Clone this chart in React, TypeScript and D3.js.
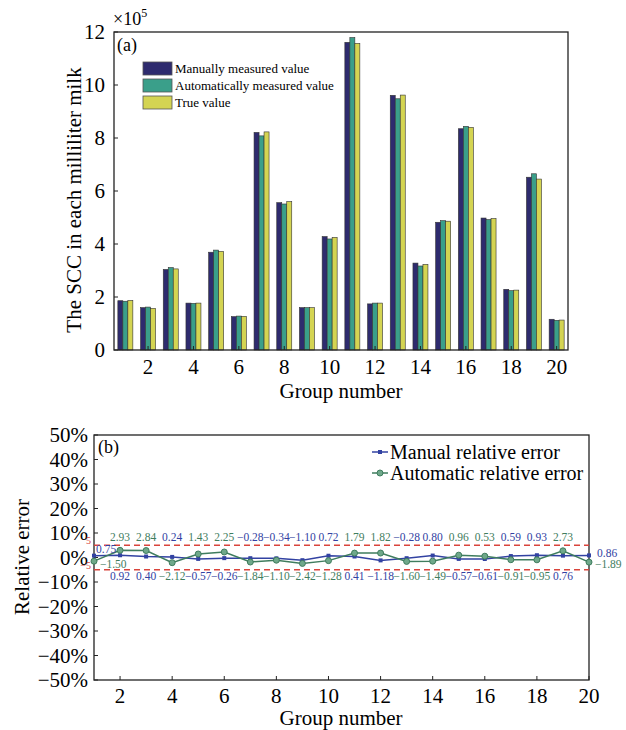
import React, { useEffect, useRef } from 'react';
import * as d3 from 'd3';

// groups 1..20
const groups = [1, 2, 3, 4, 5, 6, 7, 8, 9, 10, 11, 12, 13, 14, 15, 16, 17, 18, 19, 20];

// SCC values (x10^5)
const manualValues = [1.86, 1.60, 3.04, 1.77, 3.69, 1.26, 8.21, 5.56, 1.60, 4.28, 11.61, 1.74, 9.61, 3.28, 4.82, 8.35, 4.98, 2.29, 6.52, 1.16];
const autoValues = [1.84, 1.62, 3.11, 1.76, 3.77, 1.28, 8.08, 5.51, 1.60, 4.19, 11.79, 1.77, 9.48, 3.17, 4.88, 8.44, 4.92, 2.24, 6.65, 1.12];
const trueValues = [1.87, 1.57, 3.06, 1.77, 3.72, 1.27, 8.23, 5.60, 1.60, 4.25, 11.57, 1.77, 9.62, 3.23, 4.86, 8.40, 4.96, 2.26, 6.45, 1.13];

// relative errors (%)
const manualErr = [0.75, 0.92, 0.40, 0.24, -0.57, -0.26, -0.28, -0.34, -1.10, 0.72, 0.41, -1.18, -0.28, 0.80, -0.57, -0.61, 0.59, 0.93, 0.76, 0.86];
const autoErr = [-1.50, 2.93, 2.84, -2.12, 1.43, 2.25, -1.84, -1.10, -2.42, -1.28, 1.79, 1.82, -1.60, -1.49, 0.96, 0.53, -0.91, -0.95, 2.73, -1.89];

const groupTicks = [2, 4, 6, 8, 10, 12, 14, 16, 18, 20];
const countTicks = [0, 2, 4, 6, 8, 10, 12];
const errTicks = [50, 40, 30, 20, 10, 0, -10, -20, -30, -40, -50];

const barNames = ['Manually measured value', 'Automatically measured value', 'True value'];
const barColors = ['#2e2b6e', '#3a9f8a', '#d4d452'];
const errNames = ['Manual relative error', 'Automatic relative error'];
const errColors = ['#3242a2', '#3f7d5e'];

const FONT = "'Liberation Serif', 'Times New Roman', serif";

const fmt = (v: number) => (v < 0 ? '\u2212' + Math.abs(v).toFixed(2) : v.toFixed(2));

const App = () => {
  const ref = useRef<SVGSVGElement>(null);

  useEffect(() => {
    const svg = d3.select(ref.current);
    svg.selectAll('*').remove();

    // ---------- (a) bar chart ----------
    const x = d3.scaleLinear().domain([0.5, 20.5]).range([114, 568]);
    const y = d3.scaleLinear().domain([0, 12]).range([350, 32]);
    const bw = 5;
    const series = [manualValues, autoValues, trueValues];

    const top = svg.append('g').style('font-family', FONT);
    series.forEach((vals, s) => {
      top.selectAll(`.bar${s}`)
        .data(vals)
        .enter().append('rect')
        .attr('x', (d, i) => x(groups[i]) + (s - 1.5) * bw)
        .attr('y', d => y(d))
        .attr('width', bw)
        .attr('height', d => y(0) - y(d))
        .attr('fill', barColors[s])
        .attr('stroke', '#333')
        .attr('stroke-width', 0.6);
    });

    top.append('rect')
      .attr('x', 114).attr('y', 32).attr('width', 568 - 114).attr('height', 350 - 32)
      .attr('fill', 'none').attr('stroke', '#222').attr('stroke-width', 1.3);

    countTicks.forEach(t => {
      top.append('line').attr('x1', 114).attr('x2', 118).attr('y1', y(t)).attr('y2', y(t))
        .attr('stroke', '#222').attr('stroke-width', 1);
      top.append('text').attr('x', 105).attr('y', y(t)).attr('dy', '0.35em')
        .attr('text-anchor', 'end').attr('font-size', 21).text(t);
    });
    groupTicks.forEach(t => {
      top.append('line').attr('x1', x(t)).attr('x2', x(t)).attr('y1', 350).attr('y2', 346)
        .attr('stroke', '#222').attr('stroke-width', 1);
      top.append('text').attr('x', x(t)).attr('y', 374)
        .attr('text-anchor', 'middle').attr('font-size', 21).text(t);
    });

    top.append('text').attr('x', 341).attr('y', 398).attr('text-anchor', 'middle')
      .attr('font-size', 21).text('Group number');
    top.append('text').attr('transform', 'translate(81,200) rotate(-90)')
      .attr('text-anchor', 'middle').attr('font-size', 21).text('The SCC in each milliliter milk');

    const mult = top.append('text').attr('x', 113).attr('y', 25).attr('font-size', 18);
    mult.append('tspan').text('\u00d710');
    mult.append('tspan').attr('dy', -8).attr('font-size', 12).text('5');

    top.append('text').attr('x', 117).attr('y', 51).attr('font-size', 18).text('(a)');

    barNames.forEach((n, k) => {
      top.append('rect').attr('x', 143).attr('y', 62 + k * 17).attr('width', 29).attr('height', 13)
        .attr('fill', barColors[k]).attr('stroke', '#555').attr('stroke-width', 0.8);
      top.append('text').attr('x', 175).attr('y', 73 + k * 17).attr('font-size', 13).text(n);
    });

    // ---------- (b) relative error ----------
    const x2 = d3.scaleLinear().domain([1, 20]).range([94, 589]);
    const y2 = d3.scaleLinear().domain([-50, 50]).range([680, 435]);
    const bot = svg.append('g').style('font-family', FONT);

    bot.append('rect')
      .attr('x', 94).attr('y', 435).attr('width', 589 - 94).attr('height', 680 - 435)
      .attr('fill', 'none').attr('stroke', '#222').attr('stroke-width', 1.3);

    errTicks.forEach(t => {
      bot.append('line').attr('x1', 94).attr('x2', 98).attr('y1', y2(t)).attr('y2', y2(t))
        .attr('stroke', '#222').attr('stroke-width', 1);
      bot.append('text').attr('x', 88).attr('y', y2(t)).attr('dy', '0.35em')
        .attr('text-anchor', 'end').attr('font-size', 21)
        .text((t < 0 ? '\u2212' + Math.abs(t) : t) + '%');
    });
    groupTicks.forEach(t => {
      bot.append('line').attr('x1', x2(t)).attr('x2', x2(t)).attr('y1', 680).attr('y2', 676)
        .attr('stroke', '#222').attr('stroke-width', 1);
      bot.append('text').attr('x', x2(t)).attr('y', 703)
        .attr('text-anchor', 'middle').attr('font-size', 21).text(t);
    });

    [5, -5].forEach(t => {
      bot.append('line').attr('x1', 94).attr('x2', 589).attr('y1', y2(t)).attr('y2', y2(t))
        .attr('stroke', '#d9443c').attr('stroke-width', 1.5).attr('stroke-dasharray', '6,4');
      bot.append('text').attr('x', 91).attr('y', y2(t) - 1).attr('text-anchor', 'end')
        .attr('font-size', 10).attr('fill', '#d9443c')
        .text(t < 0 ? '\u2212' + Math.abs(t) : t);
    });

    const line = d3.line<number>().x((d, i) => x2(groups[i])).y(d => y2(d));
    const errSeries = [manualErr, autoErr];

    errSeries.forEach((vals, s) => {
      bot.append('path').attr('d', line(vals)).attr('fill', 'none')
        .attr('stroke', errColors[s]).attr('stroke-width', 1.5);
    });
    bot.selectAll('.m0').data(manualErr).enter().append('rect')
      .attr('x', (d, i) => x2(groups[i]) - 2).attr('y', d => y2(d) - 2)
      .attr('width', 4).attr('height', 4).attr('fill', errColors[0]);
    bot.selectAll('.m1').data(autoErr).enter().append('circle')
      .attr('cx', (d, i) => x2(groups[i])).attr('cy', d => y2(d)).attr('r', 3)
      .attr('fill', '#6fa88a').attr('stroke', errColors[1]).attr('stroke-width', 1);

    // value labels
    groups.forEach((g, i) => {
      const m = manualErr[i];
      const a = autoErr[i];
      if (i === 0) {
        bot.append('text').attr('x', x2(g) + 2).attr('y', 553).attr('font-size', 11.5)
          .attr('fill', errColors[0]).text(fmt(m));
        bot.append('text').attr('x', x2(g) + 6).attr('y', 568).attr('font-size', 11.5)
          .attr('fill', errColors[1]).text(fmt(a));
        return;
      }
      if (i === groups.length - 1) {
        bot.append('text').attr('x', x2(g) + 8).attr('y', 557).attr('font-size', 11.5)
          .attr('fill', errColors[0]).text(fmt(m));
        bot.append('text').attr('x', x2(g) + 6).attr('y', 568).attr('font-size', 11.5)
          .attr('fill', errColors[1]).text(fmt(a));
        return;
      }
      const upper = m >= a ? 0 : 1;
      const vals = [m, a];
      bot.append('text').attr('x', x2(g)).attr('y', 541).attr('text-anchor', 'middle')
        .attr('font-size', 11.5).attr('fill', errColors[upper]).text(fmt(vals[upper]));
      bot.append('text').attr('x', x2(g)).attr('y', 580).attr('text-anchor', 'middle')
        .attr('font-size', 11.5).attr('fill', errColors[1 - upper]).text(fmt(vals[1 - upper]));
    });

    bot.append('text').attr('x', 98).attr('y', 453).attr('font-size', 18).text('(b)');

    errNames.forEach((n, k) => {
      const ly = 452 + k * 21;
      bot.append('line').attr('x1', 372).attr('x2', 388).attr('y1', ly).attr('y2', ly)
        .attr('stroke', errColors[k]).attr('stroke-width', 1.5);
      if (k === 0) {
        bot.append('rect').attr('x', 378).attr('y', ly - 2).attr('width', 4).attr('height', 4)
          .attr('fill', errColors[0]);
      } else {
        bot.append('circle').attr('cx', 380).attr('cy', ly).attr('r', 3)
          .attr('fill', '#6fa88a').attr('stroke', errColors[1]);
      }
      bot.append('text').attr('x', 390).attr('y', ly + 7).attr('font-size', 20).text(n);
    });

    bot.append('text').attr('x', 341).attr('y', 725).attr('text-anchor', 'middle')
      .attr('font-size', 21).text('Group number');
    bot.append('text').attr('transform', 'translate(29,557) rotate(-90)')
      .attr('text-anchor', 'middle').attr('font-size', 21).text('Relative error');
  }, []);

  return (
    <div style={{ position: 'absolute', left: 0, top: 0 }}>
      <svg ref={ref} width={626} height={730} style={{ display: 'block', background: '#fff' }} />
    </div>
  );
};

export default App;
